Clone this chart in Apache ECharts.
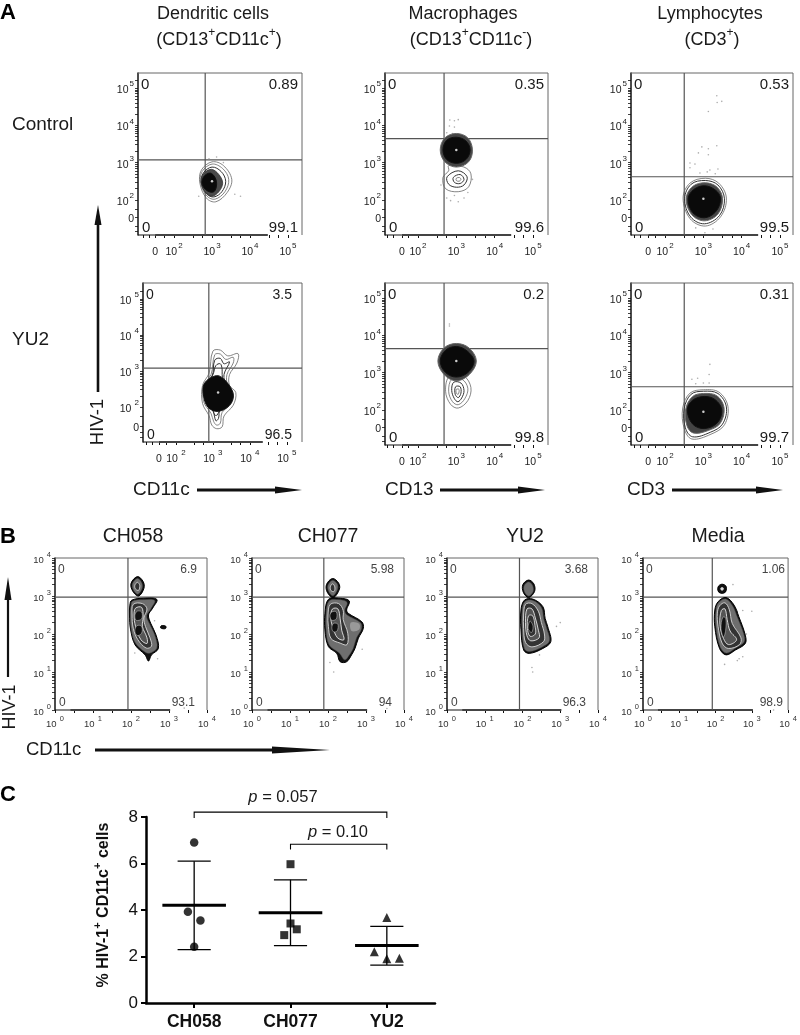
<!DOCTYPE html>
<html><head><meta charset="utf-8">
<style>html,body{margin:0;padding:0;background:#fff}#c{width:800px;height:1035px}</style>
<script src="https://cdn.jsdelivr.net/npm/echarts@6/dist/echarts.min.js"></script>
</head><body><div id="c"></div>
<script>
// ---------- DATA ----------
const quadrantTR = ['0.89','0.35','0.53','3.5','0.2','0.31','6.9','5.98','3.68','1.06'];
const quadrantBR = ['99.1','99.6','99.5','96.5','99.8','99.7','93.1','94','96.3','98.9'];
const gateX = [2.82,2.68,2.50,2.89,2.68,2.50,1.92,1.89,1.92,1.91];
const gateY = [3.07,3.64,2.62,3.08,3.64,2.62,2.97,2.97,2.97,2.97];
const zeroX = [1.5,1.58,1.56,1.54,1.58,1.56];
const zeroY = [1.54,1.54,1.54,1.47,1.54,1.54];
const bottomBarEnd = [4.47,4.43,4.43,4.35,4.43,4.43,3.03,3.03,3.03,3.03];
const domainX = [[1.05,5.37],[1.14,5.39],[1.11,5.34],[1.11,5.41],[1.14,5.39],[1.11,5.34],[0,4],[0,4],[0,4],[0,4]];
const domainY = [[1.06,5.40],[1.06,5.40],[1.06,5.40],[1.03,5.44],[1.06,5.40],[1.06,5.40],[0,4],[0,4],[0,4],[0,4]];
const ticksAX = [1.2,1.35,1.75,2,2.5,2.75,3,3.5,3.75,4,4.5,4.75,5];
const ticksAY = [1.15,1.3,1.75,2,2.3,2.48,2.6,2.7,2.78,2.85,2.9,2.95,3,3.3,3.48,3.6,3.7,3.78,3.85,3.9,3.95,4,4.3,4.48,4.6,4.7,4.78,4.85,4.9,4.95,5,5.2];
const labelsAX = [2,3,4,5];
const labelsAY = [2,3,4,5];
const ticksBX = [0,0.5,1,1.5,2,2.5,3,3.5,4];
const ticksBY = [0,0.3,0.48,0.6,0.7,0.78,0.85,0.9,0.95,1,1.3,1.48,1.6,1.7,1.78,1.85,1.9,1.95,2,2.3,2.48,2.6,2.7,2.78,2.85,2.9,2.95,3,3.3,3.48,3.6,3.7,3.78,3.85,3.9,3.95,4];
const labelsB = [0,1,2,3,4];

const contoursDC1 = [
 ['g',[[3.0,3.02],[3.3,2.92],[3.52,2.55],[3.4,2.2],[3.1,1.95],[2.85,2.05],[2.68,2.45],[2.72,2.8]]],
 ['g',[[3.0,2.96],[3.28,2.84],[3.44,2.55],[3.34,2.22],[3.08,2.02],[2.87,2.1],[2.7,2.45],[2.74,2.76]]],
 ['l',[[3.0,2.88],[3.24,2.76],[3.36,2.5],[3.26,2.22],[3.05,2.08],[2.86,2.16],[2.72,2.45],[2.77,2.72]]],
 ['d1',[[2.98,2.82],[3.18,2.68],[3.28,2.45],[3.18,2.22],[3.0,2.1],[2.83,2.2],[2.72,2.45],[2.76,2.68]]],
 ['k',[[2.95,2.72],[3.08,2.6],[3.12,2.4],[3.05,2.22],[2.88,2.24],[2.74,2.42],[2.78,2.62]]]];
const contoursMac1 = [
 ['g',[[2.8,2.92],[3.2,2.88],[3.38,2.7],[3.32,2.35],[3.05,2.22],[2.72,2.3],[2.65,2.6],[2.8,2.78]]],
 ['l',[[3.05,2.78],[3.28,2.62],[3.2,2.4],[3.0,2.34],[2.8,2.42],[2.76,2.62]]],
 ['l',[[3.1,2.68],[3.2,2.55],[3.1,2.44],[2.95,2.47],[2.92,2.6]]],
 ['g',[[3.08,2.6],[3.12,2.55],[3.07,2.5],[3.0,2.52],[3.0,2.58]]],
 ['m',[[3.0,3.78],[3.3,3.66],[3.42,3.34],[3.32,3.02],[3.0,2.88],[2.7,3.02],[2.58,3.34],[2.7,3.66]]],
 ['k',[[3.0,3.68],[3.25,3.58],[3.36,3.34],[3.25,3.08],[3.0,2.98],[2.75,3.08],[2.65,3.34],[2.75,3.6]]]];
const contoursLym1 = [
 ['g',[[3.05,2.58],[3.4,2.45],[3.6,2.05],[3.45,1.55],[3.05,1.3],[2.65,1.5],[2.47,2.05],[2.65,2.45]]],
 ['l',[[3.05,2.52],[3.38,2.4],[3.55,2.03],[3.42,1.58],[3.03,1.36],[2.67,1.54],[2.51,2.03],[2.68,2.42]]],
 ['m',[[3.05,2.46],[3.36,2.34],[3.5,2.03],[3.38,1.62],[3.03,1.44],[2.7,1.6],[2.55,2.03],[2.72,2.36]]],
 ['k',[[3.03,2.38],[3.32,2.26],[3.45,2.03],[3.32,1.68],[3.02,1.52],[2.72,1.66],[2.6,2.03],[2.75,2.28]]]];
const contoursDC2 = [
 ['g',[[3.0,3.55],[3.2,3.58],[3.4,3.42],[3.68,3.48],[3.65,3.22],[3.45,2.9],[3.45,2.6],[3.62,2.4],[3.55,2.05],[3.3,1.75],[3.25,1.45],[3.1,1.4],[2.97,1.5],[2.9,1.75],[2.72,2.1],[2.72,2.6],[2.9,2.95]]],
 ['g',[[3.05,3.45],[3.2,3.47],[3.35,3.32],[3.55,3.38],[3.55,3.22],[3.38,2.9],[3.4,2.6],[3.55,2.4],[3.5,2.1],[3.25,1.85],[3.2,1.55],[3.1,1.5],[3.02,1.6],[2.95,1.82],[2.75,2.15],[2.75,2.6],[2.95,2.9]]],
 ['l',[[3.05,3.3],[3.2,3.35],[3.3,3.2],[3.45,3.25],[3.3,2.9],[3.36,2.6],[3.5,2.35],[3.45,2.1],[3.2,1.95],[3.15,1.68],[3.08,1.62],[3.0,1.9],[2.78,2.2],[2.78,2.6],[2.98,2.85]]],
 ['l',[[3.08,3.15],[3.2,3.2],[3.25,3.05],[3.25,2.9],[3.3,2.6],[3.45,2.35],[3.4,2.05],[3.18,1.9],[3.12,1.78],[3.05,1.78],[2.98,1.98],[2.8,2.25],[2.8,2.6],[3.0,2.9]]],
 ['k',[[3.1,2.87],[3.35,2.72],[3.55,2.35],[3.45,2.05],[3.15,1.88],[2.88,1.98],[2.75,2.3],[2.77,2.65]]]];
const contoursMac2 = [
 ['g',[[2.82,2.9],[3.2,2.9],[3.38,2.6],[3.3,2.25],[3.05,2.05],[2.85,2.15],[2.72,2.5]]],
 ['g',[[2.88,2.82],[3.15,2.82],[3.3,2.58],[3.22,2.3],[3.05,2.14],[2.9,2.22],[2.8,2.5]]],
 ['l',[[2.93,2.74],[3.12,2.72],[3.2,2.52],[3.14,2.32],[3.04,2.22],[2.95,2.3],[2.88,2.52]]],
 ['l',[[2.98,2.62],[3.1,2.62],[3.12,2.45],[3.05,2.33],[2.97,2.42]]],
 ['g',[[3.0,2.55],[3.07,2.55],[3.05,2.42],[3.0,2.45]]],
 ['m',[[3.0,3.78],[3.33,3.66],[3.52,3.31],[3.34,2.95],[3.0,2.78],[2.68,2.95],[2.52,3.31],[2.68,3.66]]],
 ['k',[[3.0,3.7],[3.28,3.58],[3.46,3.31],[3.3,3.0],[3.0,2.88],[2.72,3.0],[2.58,3.31],[2.72,3.6]]]];
const contoursLym2 = [
 ['g',[[3.0,2.54],[3.4,2.48],[3.64,2.1],[3.55,1.6],[3.2,1.35],[2.7,1.22],[2.5,1.5],[2.46,2.05],[2.65,2.45]]],
 ['l',[[3.0,2.5],[3.38,2.44],[3.6,2.08],[3.5,1.62],[3.18,1.4],[2.72,1.28],[2.53,1.52],[2.5,2.04],[2.68,2.42]]],
 ['m',[[3.0,2.44],[3.35,2.38],[3.54,2.06],[3.44,1.64],[3.13,1.45],[2.74,1.38],[2.57,1.58],[2.54,2.03],[2.72,2.36]]],
 ['k',[[3.02,2.36],[3.3,2.28],[3.48,2.0],[3.36,1.65],[3.02,1.5],[2.72,1.62],[2.58,2.0],[2.72,2.26]]]];
const contoursCH058 = [
 ['e',[[2.17,3.51],[2.32,3.38],[2.34,3.2],[2.2,3.0],[2.05,3.12],[2.0,3.33]]],
 ['s',[[2.17,3.46],[2.28,3.35],[2.29,3.2],[2.18,3.05],[2.07,3.15],[2.04,3.32]]],
 ['d',[[2.17,3.36],[2.23,3.28],[2.2,3.15],[2.12,3.18],[2.1,3.28]]],
 ['e',[[2.02,2.89],[2.32,2.94],[2.68,2.91],[2.57,2.68],[2.46,2.5],[2.52,2.28],[2.66,1.97],[2.72,1.62],[2.54,1.45],[2.46,1.29],[2.37,1.45],[2.11,1.71],[1.99,2.11],[1.96,2.5],[1.97,2.76]]],
 ['s',[[2.04,2.86],[2.3,2.9],[2.62,2.88],[2.52,2.66],[2.41,2.48],[2.48,2.28],[2.62,1.98],[2.68,1.64],[2.5,1.5],[2.38,1.52],[2.12,1.76],[2.01,2.12],[1.98,2.5],[2.0,2.74]]],
 ['d',[[2.06,2.78],[2.3,2.8],[2.42,2.66],[2.34,2.42],[2.38,2.2],[2.5,1.9],[2.54,1.68],[2.4,1.63],[2.18,1.85],[2.06,2.15],[2.03,2.5]]],
 ['h',[[2.12,2.68],[2.28,2.7],[2.32,2.45],[2.3,2.2],[2.42,1.9],[2.42,1.75],[2.26,1.85],[2.12,2.2],[2.08,2.5]]],
 ['c',[[2.16,2.6],[2.28,2.58],[2.28,2.4],[2.14,2.36],[2.1,2.48]]],
 ['c',[[2.16,2.22],[2.28,2.2],[2.28,2.02],[2.16,1.96],[2.1,2.08]]],
 ['e',[[2.8,2.22],[2.92,2.2],[2.9,2.14],[2.78,2.16]]]];
const contoursCH077 = [
 ['e',[[2.12,3.46],[2.28,3.34],[2.3,3.18],[2.14,2.96],[1.98,3.1],[1.96,3.3]]],
 ['s',[[2.12,3.41],[2.24,3.32],[2.25,3.18],[2.13,3.01],[2.02,3.12],[2.0,3.28]]],
 ['d',[[2.12,3.32],[2.18,3.24],[2.16,3.12],[2.08,3.14],[2.06,3.24]]],
 ['e',[[2.01,2.91],[2.32,2.94],[2.56,2.87],[2.49,2.63],[2.54,2.54],[2.89,2.32],[2.93,2.15],[2.8,1.89],[2.71,1.62],[2.62,1.45],[2.49,1.27],[2.32,1.27],[2.23,1.49],[2.01,1.67],[1.92,2.11],[1.92,2.54]]],
 ['s',[[2.03,2.87],[2.3,2.9],[2.5,2.83],[2.44,2.62],[2.5,2.5],[2.85,2.3],[2.88,2.14],[2.75,1.9],[2.66,1.62],[2.56,1.45],[2.44,1.32],[2.3,1.5],[2.03,1.72],[1.95,2.12],[1.95,2.52]]],
 ['d',[[2.06,2.78],[2.28,2.8],[2.4,2.62],[2.4,2.38],[2.52,2.02],[2.5,1.72],[2.32,1.76],[2.08,1.88],[2.01,2.2],[2.0,2.5]]],
 ['h',[[2.12,2.66],[2.26,2.66],[2.32,2.4],[2.36,2.1],[2.42,1.85],[2.25,1.9],[2.12,2.2],[2.07,2.45]]],
 ['c',[[2.1,2.58],[2.22,2.58],[2.22,2.4],[2.1,2.36],[2.05,2.48]]],
 ['c',[[2.15,2.28],[2.26,2.26],[2.24,2.08],[2.14,2.06],[2.1,2.18]]],
 ['h2',[[2.6,2.3],[2.82,2.27],[2.82,2.12],[2.62,2.08]]]];
const contoursYU2 = [
 ['e',[[2.16,3.42],[2.3,3.32],[2.32,3.12],[2.16,2.96],[2.02,3.1],[2.01,3.3]]],
 ['s',[[2.16,3.37],[2.26,3.29],[2.28,3.12],[2.16,3.0],[2.05,3.12],[2.05,3.28]]],
 ['e',[[2.05,2.89],[2.27,2.92],[2.54,2.72],[2.6,2.41],[2.67,2.19],[2.75,1.8],[2.54,1.62],[2.18,1.49],[2.03,1.58],[1.96,2.11],[1.96,2.63]]],
 ['s',[[2.06,2.85],[2.27,2.88],[2.5,2.7],[2.56,2.4],[2.63,2.18],[2.71,1.82],[2.52,1.66],[2.18,1.54],[2.05,1.62],[1.99,2.12],[1.99,2.6]]],
 ['d',[[2.08,2.78],[2.25,2.8],[2.42,2.6],[2.5,2.3],[2.58,2.0],[2.56,1.8],[2.25,1.66],[2.08,1.78],[2.03,2.15],[2.03,2.5]]],
 ['h',[[2.12,2.66],[2.25,2.66],[2.34,2.42],[2.42,2.1],[2.44,1.9],[2.22,1.82],[2.12,1.95],[2.08,2.3]]],
 ['d',[[2.16,2.48],[2.27,2.48],[2.33,2.22],[2.34,2.0],[2.2,1.94],[2.13,2.15]]],
 ['c',[[2.2,2.34],[2.28,2.2],[2.24,2.04],[2.15,2.14]]]];
const contoursMedia = [
 ['e',[[2.18,3.31],[2.28,3.27],[2.3,3.19],[2.27,3.1],[2.18,3.07],[2.09,3.1],[2.06,3.19],[2.09,3.27]]],
 ['h3',[[2.18,3.24],[2.23,3.19],[2.18,3.14],[2.13,3.19]]],
 ['e',[[2.07,2.85],[2.29,2.96],[2.51,2.76],[2.64,2.46],[2.82,1.97],[2.82,1.75],[2.55,1.58],[2.29,1.45],[2.11,1.62],[1.98,2.19],[1.98,2.63]]],
 ['s',[[2.08,2.82],[2.28,2.92],[2.47,2.74],[2.6,2.44],[2.78,1.98],[2.78,1.78],[2.53,1.62],[2.3,1.5],[2.13,1.66],[2.01,2.2],[2.01,2.6]]],
 ['d',[[2.11,2.74],[2.26,2.82],[2.38,2.64],[2.46,2.28],[2.7,1.9],[2.66,1.72],[2.35,1.62],[2.18,1.76],[2.07,2.2],[2.05,2.55]]],
 ['h',[[2.16,2.62],[2.26,2.66],[2.32,2.38],[2.4,2.08],[2.58,1.85],[2.36,1.72],[2.22,1.88],[2.12,2.25]]],
 ['c',[[2.2,2.44],[2.28,2.42],[2.28,2.1],[2.22,1.92],[2.15,2.15]]]];
const contourSets = [contoursDC1,contoursMac1,contoursLym1,contoursDC2,contoursMac2,contoursLym2,contoursCH058,contoursCH077,contoursYU2,contoursMedia];

const specksDC1 = [[2.92,3.1],[3.12,3.15],[3.3,3.0],[3.6,2.15],[3.75,2.1],[2.65,2.1]];
const specksMac1 = [[2.83,4.14],[2.95,4.12],[3.05,4.15],[2.82,3.98],[2.95,3.95],[2.75,3.8],[2.9,3.78],[2.6,2.4],[2.68,2.2],[2.75,2.05],[2.95,2.12],[3.05,1.95],[3.2,2.05],[3.3,2.2],[2.85,1.98],[3.42,2.55]];
const specksLym1 = [[3.35,4.79],[3.48,4.64],[3.36,4.61],[3.13,4.37],[2.96,3.42],[3.35,3.45],[3.13,3.37],[2.87,3.26],[3.13,3.21],[2.65,2.99],[2.78,2.96],[2.65,2.86],[3.17,2.8],[3.38,2.83],[3.1,2.75],[2.91,2.72],[3.31,2.7],[3.04,1.12],[2.8,1.25],[3.25,1.22]];
const specksDC2 = [];
const specksMac2 = [[2.82,4.3],[2.82,4.25]];
const specksLym2 = [[3.17,3.22],[3.15,2.95],[2.85,2.85],[2.7,2.82],[3.0,2.72],[3.15,2.72],[2.8,2.7]];
const specksCH058 = [[2.62,2.35],[3.4,0.05],[2.7,1.35],[2.1,1.5]];
const specksCH077 = [[2.15,1.0],[2.05,1.25],[3.55,0.04],[2.9,1.6]];
const specksYU2 = [[2.9,2.2],[3.0,2.3],[2.25,1.12],[2.27,1.0],[2.45,1.45],[3.6,-0.1]];
const specksMedia = [[2.48,3.3],[2.75,2.62],[2.6,2.6],[3.0,2.6],[2.85,2.0],[2.25,1.2],[2.6,1.3],[2.65,1.35],[2.75,1.4],[3.6,0.0]];
const speckSets = [specksDC1,specksMac1,specksLym1,specksDC2,specksMac2,specksLym2,specksCH058,specksCH077,specksYU2,specksMedia];
const centerDots = [[[3.0,2.5]],[[3.0,3.34]],[[3.0,2.03]],[[3.14,2.4]],[[3.0,3.31]],[[3.0,1.95]],[],[],[],[]];

// panel C
const groupNames = ['CH058','CH077','YU2'];
const ch058 = [[1,6.9],[0.935,3.92],[1.065,3.55],[1,2.42]];
const ch077 = [[2,5.97],[2,3.42],[2.065,3.17],[1.935,2.92]];
const yu2 = [[3,3.68],[2.87,2.2],[3,1.9],[3.13,1.93]];
const means = [4.2,3.88,2.47];
const errHigh = [6.1,5.3,3.3];
const errLow = [2.3,2.47,1.63];
const bracket1 = [[1,7.96],[1,8.21],[3,8.21],[3,7.96]];
const bracket2 = [[2,6.6],[2,6.83],[3,6.83],[3,6.6]];

// ---------- LAYOUT & STYLE ----------
const FONT = '"Liberation Sans", Arial, sans-serif';
const boxes = [[138,73,164,162],[385,73,163,162],[631,73,162,162],[143,283,159,159],[385,283,163,162],[631,283,162,162],
               [55,558,152,152],[252,558,152,152],[447,558,151,152],[643,558,152,152]];
const levelStyle = {
 g:{fill:'none',stroke:'#666',lineWidth:0.8},
 l:{fill:'none',stroke:'#333',lineWidth:1},
 m:{fill:'#444',stroke:'#666',lineWidth:1},
 d1:{fill:'#4a4a4a',stroke:'#333',lineWidth:0.8},
 k:{fill:'#0a0a0a',stroke:'#111',lineWidth:1},
 e:{fill:'#111',stroke:'#000',lineWidth:1},
 s:{fill:'#6e6e6e',stroke:'#555',lineWidth:0.5},
 d:{fill:'#333',stroke:'#d8d8d8',lineWidth:0.9},
 h:{fill:'#555',stroke:'#e6e6e6',lineWidth:0.9},
 h2:{fill:'#999',stroke:'none',lineWidth:0},
 h3:{fill:'#ddd',stroke:'none',lineWidth:0},
 c:{fill:'#111',stroke:'#bbb',lineWidth:0.6}
};
const plain = (data,xi,color,w,z)=>({type:'line',xAxisIndex:xi,yAxisIndex:xi,data,symbol:'none',clip:false,silent:true,z:z||2,
  lineStyle:{color,width:w,cap:'butt',join:'miter'}});
const grid=[],xAxis=[],yAxis=[],series=[],graphic=[];

const text=(x,y,t,size,opt={})=>graphic.push({type:'text',x,y,rotation:opt.rot||0,z:50,silent:true,style:{
  text:t,fontSize:size,fontFamily:FONT,fill:opt.color||'#1a1a1a',align:opt.align||'left',verticalAlign:'middle',fontWeight:opt.weight||'normal',rich:opt.rich}});
function hArrow(x0,x1,y,headLen,w){
  graphic.push({type:'line',z:40,silent:true,shape:{x1:x0,y1:y,x2:x1-headLen+2,y2:y},style:{stroke:'#111',lineWidth:w}});
  graphic.push({type:'polygon',z:40,silent:true,shape:{points:[[x1-headLen,y-3.5],[x1,y],[x1-headLen,y+3.5]]},style:{fill:'#111'}});
}
function vArrow(x,y0,y1,headLen,w){
  graphic.push({type:'line',z:40,silent:true,shape:{x1:x,y1:y0,x2:x,y2:y1+headLen-2},style:{stroke:'#111',lineWidth:w}});
  graphic.push({type:'polygon',z:40,silent:true,shape:{points:[[x-3.5,y1+headLen],[x,y1],[x+3.5,y1+headLen]]},style:{fill:'#111'}});
}
const supRich = (size,supSize,color)=>({n:{fontSize:size,fontFamily:FONT,fill:color,color,lineHeight:size+5,verticalAlign:'bottom'},
  s:{fontSize:supSize,fontFamily:FONT,fill:color,color,lineHeight:size+5,verticalAlign:'top',padding:[0,0,0,1]}});

boxes.forEach((b,i)=>{
  const isA=i<6, spaced=(i===3)||!isA;
  const color=isA?'#222':'#333';
  const [xmin,xmax]=domainX[i],[ymin,ymax]=domainY[i];
  const lblSize=isA?10.5:9.5, sup=isA?8:7.5;
  const fmt=v=>`{n|10}{s|${spaced?' ':''}${Math.round(v)}}`;
  grid.push({left:b[0],top:b[1],width:b[2],height:b[3]});
  const xTicks=isA?ticksAX.concat([zeroX[i]]):ticksBX, yTicks=isA?ticksAY.concat([zeroY[i]]):ticksBY;
  const xLabels=isA?labelsAX.concat([zeroX[i]]):labelsB, yLabels=isA?labelsAY.concat([zeroY[i]]):labelsB;
  xAxis.push({type:'value',gridIndex:i,min:xmin,max:xmax,position:'bottom',splitLine:{show:false},axisLine:{show:false,onZero:false},
    axisTick:{show:true,length:3,customValues:xTicks,lineStyle:{color:'#111',width:1}},
    axisLabel:{show:true,margin:isA?7:5,customValues:xLabels,rich:supRich(lblSize,sup,color),
      formatter:v=>(isA&&v===zeroX[i])?'{n|0}':fmt(v)}});
  yAxis.push({type:'value',gridIndex:i,min:ymin,max:ymax,position:'left',splitLine:{show:false},
    axisLine:{show:true,onZero:false,lineStyle:{color:'#111',width:1.5}},
    axisTick:{show:true,length:3,customValues:yTicks,lineStyle:{color:'#111',width:0.8}},
    axisLabel:{show:true,margin:4,customValues:yLabels,rich:supRich(lblSize,sup,color),
      formatter:v=>(isA&&v===zeroY[i])?'{n|0}':fmt(v)}});
  series.push(plain([[xmin,ymax],[xmax,ymax],[xmax,ymin]],i,'#666',1));
  series.push(plain([[xmin,ymin],[isA?zeroX[i]:0.4,ymin]],i,'#111',1));
  series.push(plain([[isA?zeroX[i]:0.4,ymin],[bottomBarEnd[i],ymin]],i,'#444',2));
  series.push(plain([[gateX[i],ymin],[gateX[i],ymax]],i,'#555',1.2));
  series.push(plain([[xmin,gateY[i]],[xmax,gateY[i]]],i,'#555',1.2));
  series.push({type:'scatter',xAxisIndex:i,yAxisIndex:i,data:speckSets[i],symbolSize:1.6,silent:true,itemStyle:{color:'#999'},z:3});
  const cs=contourSets[i];
  series.push({type:'custom',xAxisIndex:i,yAxisIndex:i,z:4,silent:true,data:cs.map((c,k)=>[k,0]),encode:{x:-1,y:-1},clip:false,
    renderItem:(p,api)=>{const c=cs[api.value(0)];
      return {type:'polygon',shape:{points:c[1].map(pt=>api.coord(pt)),smooth:0.36},style:Object.assign({},levelStyle[c[0]])};}});
  series.push({type:'scatter',xAxisIndex:i,yAxisIndex:i,data:centerDots[i],symbolSize:2.5,silent:true,itemStyle:{color:'#fff'},z:6});
  const sz=isA?(i===3?14:15):12, col=isA?'#1a1a1a':'#444';
  const rx=isA?(i===3?b[0]+b[2]-10:b[0]+b[2]-4):b[0]+b[2]-10;
  text(b[0]+3,b[1]+12,'0',sz,{color:col});
  text(b[0]+4,b[1]+b[3]-7,'0',sz,{color:col});
  text(rx,b[1]+12,quadrantTR[i],sz,{color:col,align:'right'});
  text(isA?rx:b[0]+b[2]-12,b[1]+b[3]-7,quadrantBR[i],sz,{color:col,align:'right'});
});

// ---------- PANEL C ----------
const ci=boxes.length;
grid.push({left:146,top:817,width:289,height:186});
xAxis.push({type:'value',gridIndex:ci,min:0.5,max:3.5,splitLine:{show:false},
  axisLine:{onZero:false,lineStyle:{color:'#000',width:2.5}},
  axisTick:{length:5,customValues:[1,2,3],lineStyle:{color:'#000',width:2}},
  axisLabel:{customValues:[1,2,3],margin:10,fontSize:17.5,fontWeight:'bold',fontFamily:FONT,color:'#111',formatter:v=>groupNames[Math.round(v)-1]}});
yAxis.push({type:'value',gridIndex:ci,min:0,max:8,interval:2,splitLine:{show:false},
  axisLine:{onZero:false,lineStyle:{color:'#000',width:2.5}},
  axisTick:{length:5,lineStyle:{color:'#000',width:2}},
  axisLabel:{margin:8,fontSize:17,fontFamily:FONT,color:'#111'}});
[[ch058,'circle',8.5],[ch077,'rect',8],[yu2,'triangle',9]].forEach(([d,sym,s])=>{
  series.push({type:'scatter',xAxisIndex:ci,yAxisIndex:ci,data:d,symbol:sym,symbolSize:s,silent:true,itemStyle:{color:'#000'},z:5});
});
[0,1,2].forEach(k=>{
  const c=k+1;
  series.push(plain([[c-0.33,means[k]],[c+0.33,means[k]]],ci,'#000',3,4));
  series.push(plain([[c,errLow[k]],[c,errHigh[k]]],ci,'#000',1.3,4));
  series.push(plain([[c-0.172,errHigh[k]],[c+0.172,errHigh[k]]],ci,'#000',1.3,4));
  series.push(plain([[c-0.172,errLow[k]],[c+0.172,errLow[k]]],ci,'#000',1.3,4));
});
series.push(plain(bracket1,ci,'#000',1.1,4));
series.push(plain(bracket2,ci,'#000',1.1,4));

// ---------- TEXT & ARROWS ----------
const titleRich={t:{fontSize:18,fontFamily:FONT,fill:'#1a1a1a',lineHeight:22,verticalAlign:'bottom'},
                 u:{fontSize:12,fontFamily:FONT,fill:'#1a1a1a',lineHeight:22,verticalAlign:'top'}};
text(0,13,'A',22,{weight:'bold',color:'#000'});
text(0,537,'B',22,{weight:'bold',color:'#000'});
text(0,795,'C',22,{weight:'bold',color:'#000'});
text(213,14,'Dendritic cells',18,{align:'center'});
text(463,14,'Macrophages',18,{align:'center'});
text(710,14,'Lymphocytes',18,{align:'center'});
text(219,38,'{t|(CD13}{u|+}{t|CD11c}{u|+}{t|)}',18,{align:'center',rich:titleRich});
text(471,38,'{t|(CD13}{u|+}{t|CD11c}{u|-}{t|)}',18,{align:'center',rich:titleRich});
text(712,38,'{t|(CD3}{u|+}{t|)}',18,{align:'center',rich:titleRich});
text(12,125,'Control',19);
text(12,340,'YU2',19);
text(98,422,'HIV-1',18.5,{rot:Math.PI/2,align:'center'});
vArrow(98,392,205,20,2.6);
text(133,490,'CD11c',19); hArrow(197,302,490,27,3);
text(385,490,'CD13',19);  hArrow(440,545,490,27,3);
text(627,490,'CD3',19);   hArrow(672,783,490,27,3);
text(133,537,'CH058',19.5,{align:'center'});
text(328,537,'CH077',19.5,{align:'center'});
text(525,537,'YU2',19.5,{align:'center'});
text(718,537,'Media',19.5,{align:'center'});
text(10,707,'HIV-1',18,{rot:Math.PI/2,align:'center'});
vArrow(8,677,577,23,2.2);
text(26,750,'CD11c',18.5); hArrow(95,330,750,58,3);
const pRich={i:{fontSize:16.5,fontStyle:'italic',fontFamily:FONT,fill:'#1a1a1a'},r:{fontSize:16.5,fontFamily:FONT,fill:'#1a1a1a'}};
text(283,797,'{i|p}{r| = 0.057}',16.5,{align:'center',rich:pRich});
text(338,832,'{i|p}{r| = 0.10}',16.5,{align:'center',rich:pRich});
const yRich={b:{fontSize:16,fontWeight:'bold',fontFamily:FONT,fill:'#111',lineHeight:20,verticalAlign:'bottom'},
             u:{fontSize:11,fontWeight:'bold',fontFamily:FONT,fill:'#111',lineHeight:20,verticalAlign:'top'}};
text(102,905,'{b|% HIV-1}{u|+}{b| CD11c}{u|+}{b| cells}',16,{rot:Math.PI/2,align:'center',rich:yRich});

const chart=echarts.init(document.getElementById('c'),null,{renderer:'canvas'});
chart.setOption({animation:false,backgroundColor:'#fff',grid,xAxis,yAxis,series,graphic:{elements:graphic}});
</script></body></html>
